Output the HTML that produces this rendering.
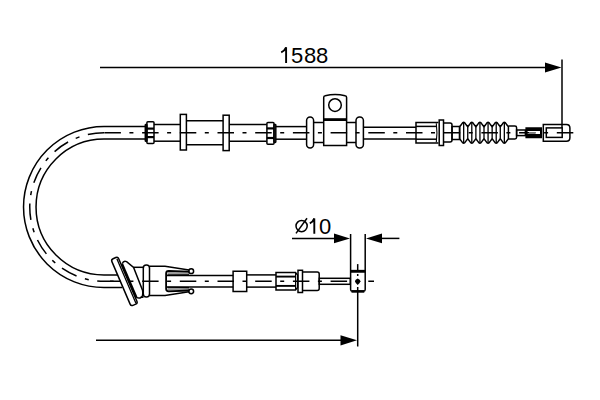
<!DOCTYPE html>
<html><head><meta charset="utf-8">
<style>
html,body{margin:0;padding:0;background:#fff;width:600px;height:400px;overflow:hidden}
svg{display:block}
text{font-family:"Liberation Sans",sans-serif;fill:#000}
</style></head>
<body>
<svg width="600" height="400" viewBox="0 0 600 400">
<g fill="none" stroke="#000" stroke-width="1.5">
<!-- ===== top dimension ===== -->
<line x1="100" y1="67.5" x2="546" y2="67.5"/>
<line x1="562" y1="59.5" x2="562" y2="128"/>

<!-- ===== cable curve ===== -->
<path d="M145.3 126.5 L104 126.5 A80.5 80.5 0 0 0 104 287.5 L122 287.5"/>
<path d="M145.3 139 L104 139 A68 68 0 0 0 104 275 L118 275"/>
<path d="M104.4 132.75 L104 132.75 A74.25 74.25 0 0 0 104 281.25 L116 281.25" stroke-dasharray="16.5 8.7 4 8.5" stroke-dashoffset="-0.2"/>
<line x1="110" y1="281.25" x2="121" y2="281.25"/>
<!-- top centerline -->
<line x1="104.4" y1="132.8" x2="574" y2="132.8" stroke-dasharray="16.5 8.5 4 8.7"/>
<!-- bottom centerline -->
<line x1="121" y1="281.25" x2="374" y2="281.25" stroke-dasharray="16.5 8.5 4 8.7" stroke-dashoffset="16.6"/>

<!-- ===== left nut ===== -->
<rect x="146.9" y="121.8" width="7.1" height="21.6" rx="1"/>
<rect x="145.3" y="124.4" width="1.6" height="16.9" rx="0.6"/>
<line x1="146.9" y1="128.6" x2="154" y2="128.6" stroke-width="2.2"/>
<line x1="146.9" y1="137.1" x2="154" y2="137.1" stroke-width="2.2"/>
<!-- tubes & flanges -->
<line x1="154" y1="124.5" x2="180.3" y2="124.5"/>
<line x1="154" y1="141.2" x2="180.3" y2="141.2"/>
<rect x="180.3" y="114.4" width="6.1" height="35.6"/>
<line x1="186.4" y1="120.8" x2="223.1" y2="120.8"/>
<line x1="186.4" y1="144.8" x2="223.1" y2="144.8"/>
<rect x="223.1" y="115.2" width="6.1" height="35.4"/>
<line x1="229.2" y1="124.6" x2="266.7" y2="124.6"/>
<line x1="229.2" y1="141.3" x2="266.7" y2="141.3"/>
<!-- right nut of left group -->
<rect x="266.9" y="122.5" width="7.1" height="21.7" rx="1"/>
<rect x="274" y="124.4" width="1.8" height="18" rx="0.6"/>
<line x1="266.9" y1="128.4" x2="274" y2="128.4" stroke-width="2.2"/>
<line x1="266.9" y1="138" x2="274" y2="138" stroke-width="2.2"/>
<!-- cable -->
<line x1="275.8" y1="126.6" x2="306.6" y2="126.6"/>
<line x1="275.8" y1="139.2" x2="306.6" y2="139.2"/>

<!-- ===== grommets + sleeve + bracket ===== -->
<rect x="306.6" y="117" width="7" height="31" rx="3.5"/>
<rect x="356" y="117" width="7.4" height="31" rx="3.5"/>
<path d="M313.6 122.6 L323.7 122.6 M346.6 122.6 L356 122.6 M313.6 142.5 L323.7 142.5 M346.6 142.5 L356 142.5"/>
<path d="M323.7 145.4 L323.7 97.4 Q323.7 95.9 325.2 95.7 Q335.1 93.2 345.1 95.7 Q346.6 95.9 346.6 97.4 L346.6 145.4 Z"/>
<line x1="323.7" y1="119.6" x2="346.6" y2="119.6" stroke-width="2.8"/>
<circle cx="335" cy="105.1" r="6.3"/>
<!-- cable right -->
<line x1="363.4" y1="127.2" x2="416" y2="127.2"/>
<line x1="363.4" y1="139" x2="416" y2="139"/>

<!-- ===== right fitting ===== -->
<path d="M438.5 122.5 L416 122.5 L416 143 L438.5 143"/>
<line x1="416" y1="126.4" x2="436" y2="126.4"/>
<line x1="416" y1="139.2" x2="436" y2="139.2"/>
<path d="M436.3 123.2 Q437.6 132.8 436.3 142.3" stroke-width="1.1"/>
<rect x="439.2" y="120" width="4.3" height="25.5"/>
<path d="M443.5 123 L450 123 Q452 123 452 125 L452 140 Q452 142 450 142 L443.5 142"/>
<rect x="452" y="126.5" width="7.6" height="13"/>
<!-- boot -->
<path d="M459.60 126.8 L461.60 124.2 Q462.77 122.3 463.67 122.3 Q464.57 122.3 465.74 124.2 L467.74 126.8 L469.74 124.2 Q470.90 122.3 471.80 122.3 Q472.70 122.3 473.87 124.2 L475.87 126.8 L477.87 124.2 Q479.04 122.3 479.94 122.3 Q480.84 122.3 482.00 124.2 L484.00 126.8 L486.00 124.2 Q487.17 122.3 488.07 122.3 Q488.97 122.3 490.14 124.2 L492.14 126.8 L494.14 124.2 Q495.31 122.3 496.21 122.3 Q497.11 122.3 498.28 124.2 L500.28 126.8 L502.28 124.2 Q503.44 122.3 504.34 122.3 Q505.24 122.3 506.41 124.2 L508.41 126.8 L508.41 138.8 L506.41 141.4 Q505.24 143.3 504.34 143.3 Q503.44 143.3 502.28 141.4 L500.28 138.8 L498.28 141.4 Q497.11 143.3 496.21 143.3 Q495.31 143.3 494.14 141.4 L492.14 138.8 L490.14 141.4 Q488.97 143.3 488.07 143.3 Q487.17 143.3 486.00 141.4 L484.00 138.8 L482.00 141.4 Q480.84 143.3 479.94 143.3 Q479.04 143.3 477.87 141.4 L475.87 138.8 L473.87 141.4 Q472.70 143.3 471.80 143.3 Q470.90 143.3 469.74 141.4 L467.74 138.8 L465.74 141.4 Q464.57 143.3 463.67 143.3 Q462.77 143.3 461.60 141.4 L459.60 138.8 Z" stroke-linejoin="round"/>
<path d="M463.67 122.5 L463.67 143.1 M467.74 126.8 L467.74 138.8 M471.80 122.5 L471.80 143.1 M475.87 126.8 L475.87 138.8 M479.94 122.5 L479.94 143.1 M484.00 126.8 L484.00 138.8 M488.07 122.5 L488.07 143.1 M492.14 126.8 L492.14 138.8 M496.21 122.5 L496.21 143.1 M500.28 126.8 L500.28 138.8 M504.34 122.5 L504.34 143.1" stroke-width="1.3"/>
<path d="M508.4 126 L514.9 126 Q516.6 126 516.6 127.7 L516.6 137.3 Q516.6 139 514.9 139 L508.4 139"/>
<rect x="516.6" y="130" width="8.8" height="5.6"/>
<path d="M525.4 127.2 L542 127.2 L542 138.3 L525.4 138.3 Z M527.6 131.1 L527.6 134 L540 134 L540 131.1 Z" fill="#000" stroke="none" fill-rule="evenodd"/>
<line x1="529" y1="132.6" x2="536" y2="132.6" stroke="#888" stroke-width="1"/>
<path d="M543.3 124.5 L566.4 124.5 Q569.9 124.5 569.9 128 L569.9 137.8 Q569.9 141.3 566.4 141.3 L543.3 141.3 Z"/>
<rect x="546.3" y="127.9" width="15.9" height="9.5"/>

<!-- ===== bottom assembly ===== -->
<!-- grommet -->
<path d="M122.3 263.4 Q123.4 260.5 126.6 261.6 L133.6 267.4 L142.6 290.5 Q143.6 297.5 140.2 297.9 Q138.2 298.2 136.8 297.6"/>
<line x1="133.6" y1="267.3" x2="143.5" y2="267.3"/>
<line x1="140.5" y1="297.2" x2="143.5" y2="297.2"/>
<!-- plate -->
<g transform="translate(125.2 281.25) rotate(-23.15)">
<rect x="-4.5" y="-25.5" width="7.4" height="50.7" rx="2.2"/>
<line x1="1.2" y1="-24" x2="1.2" y2="24.5" stroke-width="1.3"/>
<line x1="4.0" y1="-17.5" x2="4.0" y2="19.8" stroke-width="2.2"/>
</g>
<rect x="143.3" y="265" width="6.2" height="32" rx="3"/>
<path d="M149.5 266.2 L165 266.2 L189 270 M149.5 295.5 L165 295.5 L189 291.8"/>
<!-- clip -->
<path d="M167.5 271.6 L189 272.1 L189 274.7 L167.5 275.1 Z M167.5 287.3 L189 287.6 L189 290.3 L167.5 290.7 Z" fill="#9a9a9a" stroke="none"/>
<path d="M189.5 271.6 L168.6 270.9 Q166.1 270.9 166.1 273.4 L166.1 288.8 Q166.1 291.3 168.6 291.3 L189.5 290.5" stroke-width="1.8"/>
<path d="M167.5 275.1 L189 274.7 M167.5 287.3 L189 287.6" stroke-width="1.1"/>
<circle cx="191.2" cy="271.2" r="2.4"/>
<circle cx="191.2" cy="291.3" r="2.4"/>
<line x1="167" y1="275.4" x2="233.1" y2="275.4"/>
<line x1="167" y1="287" x2="233.1" y2="287"/>
<rect x="233.1" y="271.25" width="13.6" height="20.25"/>
<line x1="246.7" y1="274.9" x2="276" y2="274.9"/>
<line x1="246.7" y1="287.1" x2="276" y2="287.1"/>
<!-- bottom nut -->
<path d="M276 272.5 L295.5 272.5 L297.5 275 L297.5 287.5 L295.5 290 L276 290 Z"/>
<line x1="276" y1="276.6" x2="296" y2="276.6" stroke-width="1.9"/>
<line x1="276" y1="285.9" x2="296" y2="285.9" stroke-width="1.9"/>
<line x1="295.5" y1="272.5" x2="295.5" y2="290" stroke-width="1"/>
<rect x="298" y="270.3" width="4.5" height="22.2"/>
<path d="M302.5 272.1 L317.2 272.1 Q319.2 272.1 319.2 274.1 L319.2 288.4 Q319.2 290.4 317.2 290.4 L302.5 290.4"/>
<rect x="319.3" y="278.3" width="31" height="6"/>
<!-- end block -->
<path d="M350.6 234 L350.6 289.6 Q350.6 291.2 352.2 291.2 L363.6 291.2 Q365.2 291.2 365.2 289.6 L365.2 234"/>
<line x1="351.5" y1="291.4" x2="364.3" y2="291.4" stroke-width="2.6"/>
<line x1="350.6" y1="271.3" x2="365.2" y2="271.3" stroke-width="2.9"/>
<line x1="357.7" y1="287" x2="357.7" y2="346.5"/>
<line x1="357.7" y1="264.1" x2="357.7" y2="270"/>
<line x1="357.7" y1="274" x2="357.7" y2="276"/>

<!-- ===== phi10 dimension ===== -->
<line x1="292" y1="238.4" x2="335" y2="238.4"/>
<line x1="381" y1="238.4" x2="399.4" y2="238.4"/>
<!-- ===== bottom dimension ===== -->
<line x1="96" y1="340.3" x2="341" y2="340.3"/>
</g>
<g fill="#000" stroke="none">
<polygon points="545,62.5 561.5,67.5 545,72.5"/>
<polygon points="334,233.6 350,238.4 334,243.2"/>
<polygon points="382,233.6 366,238.4 382,243.2"/>
<polygon points="340.5,335.2 357,340.3 340.5,345.4"/>
<path d="M357.7 278.4 Q360.4 279.6 360.4 281.3 Q360.2 283 357.7 285 Q355.2 283 355 281.3 Q355 279.6 357.7 278.4 Z"/>
</g>
<g font-size="22"><text x="291" y="63">5</text><text x="304" y="63">8</text><text x="315.9" y="63">8</text><text x="319" y="234">0</text></g>
<path d="M281.2 52.4 Q284.6 50.8 286.1 47.3 L286.1 62.9 M309.8 223.3 Q313.2 221.8 314.3 218.4 L314.3 233.8" fill="none" stroke="#000" stroke-width="1.9"/>
<circle cx="301.6" cy="226.1" r="5.6" fill="none" stroke="#000" stroke-width="1.5"/>
<line x1="296" y1="233.4" x2="307" y2="218.2" stroke="#000" stroke-width="1.5"/>
</svg>
</body></html>
